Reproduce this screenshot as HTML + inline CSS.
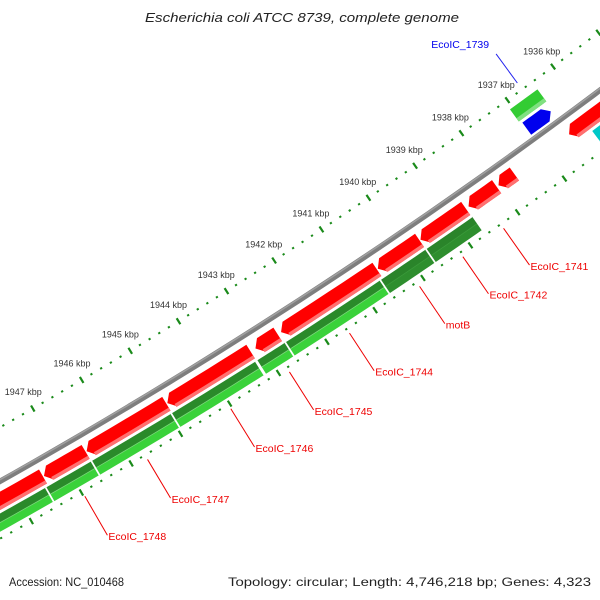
<!DOCTYPE html>
<html><head><meta charset="utf-8"><style>
html,body{margin:0;padding:0;background:#fff;}
svg{display:block;font-family:"Liberation Sans",sans-serif;}
</style></head><body>
<svg id="map" width="600" height="600" viewBox="0 0 600 600">
<text x="145" y="22" textLength="314" lengthAdjust="spacingAndGlyphs" font-size="13" font-style="italic" fill="#222">Escherichia coli ATCC 8739, complete genome</text>
<text x="9" y="586" textLength="115" lengthAdjust="spacingAndGlyphs" font-size="12" fill="#222">Accession: NC_010468</text>
<text x="228" y="586" textLength="363" lengthAdjust="spacingAndGlyphs" font-size="12" fill="#222">Topology: circular; Length: 4,746,218 bp; Genes: 4,323</text>
<g id="layer"></g>
</svg>
<script>
// data (kbp)
const majorTicks = [1936,1937,1938,1939,1940,1941,1942,1943,1944,1945,1946,1947,1948,1949];
const tickLabels = ["1936 kbp","1937 kbp","1938 kbp","1939 kbp","1940 kbp","1941 kbp","1942 kbp","1943 kbp","1944 kbp","1945 kbp","1946 kbp","1947 kbp","1948 kbp","1949 kbp"];
const redStart = [1947.44,1946.58,1944.94,1943.21,1942.65,1940.58,1939.68,1938.70,1938.04,1937.66,1935.2];
const redEnd   = [1948.9,1947.42,1946.56,1944.92,1943.11,1942.58,1940.56,1939.66,1938.64,1938.00,1936.48];
const greenStart = [1947.50,1946.58,1944.96,1943.23,1942.62,1940.64,1939.68,1938.68];
const greenEnd   = [1948.9,1947.48,1946.56,1944.94,1943.19,1942.60,1940.62,1939.66];
const greenType  = ["light","light","light","light","light","light","dark","dark"];
const cyanStart = [1935.0];
const cyanEnd = [1936.12];
const blueStart = [1936.50];
const blueEnd = [1937.02];
const innerGreenStart = [1936.46];
const innerGreenEnd = [1937.06];
const labelNames = ["EcoIC_1748","EcoIC_1747","EcoIC_1746","EcoIC_1745","EcoIC_1744","motB","EcoIC_1742","EcoIC_1741"];
const labelPos = [1946.98,1945.72,1944.03,1942.83,1941.59,1940.13,1939.22,1938.36];
const blueLabelName = "EcoIC_1739";
const blueLabelPos = 1936.68;

const NS="http://www.w3.org/2000/svg";
const layer=document.getElementById('layer');
const CX=-2697, CY=-4312, R=5500, A0=56.39, K=0.595;
function pt(pos,r){const a=(A0+(pos-1941)*K)*Math.PI/180;return [CX+(R+r)*Math.cos(a),CY+(R+r)*Math.sin(a)];}
function mk(tag,attrs){const e=document.createElementNS(NS,tag);for(const k in attrs)e.setAttribute(k,attrs[k]);layer.appendChild(e);return e;}
function arcPts(p1,p2,r,n){const a=[];for(let i=0;i<=n;i++){a.push(pt(p1+(p2-p1)*i/n,r));}return a;}
function ps(a){return a.map(p=>p[0].toFixed(2)+','+p[1].toFixed(2)).join(' ');}
function band(p1,p2,r0,r1){const n=8;return arcPts(p1,p2,r0,n).concat(arcPts(p1,p2,r1,n).reverse());}
function arrowHi(p1,p2,r0,r1){const h=0.12,m=(r0+r1)/2;const b=Math.max(p1,p2-h);return arcPts(p1,b,r0,6).concat([pt(p2,m)]).concat(arcPts(p1,b,r1,6).reverse());}
function arrowLo(p1,p2,r0,r1){const h=0.12,m=(r0+r1)/2;const b=Math.min(p2,p1+h);return [pt(p1,m)].concat(arcPts(b,p2,r0,6)).concat(arcPts(b,p2,r1,6).reverse());}

let bb=mk('polyline',{points:ps(arcPts(1933,1951,0,40)),fill:'none',stroke:'#7e7e7e','stroke-width':5.5});


let bb2=mk('polyline',{points:ps(arcPts(1933,1951,-1.5,40)),fill:'none',stroke:'#a0a0a0','stroke-width':1.5});



for(let i=0;i<=70;i++){
  const p=1935+i*0.2;
  const major=(i%5===0);
  const li=major?3.5:1;
  let t1=mk('line',{x1:pt(p,-47-li)[0],y1:pt(p,-47-li)[1],x2:pt(p,-47+li)[0],y2:pt(p,-47+li)[1],stroke:'#1a8a1a','stroke-width':2.2});
  
  
  let t2=mk('line',{x1:pt(p,50-li)[0],y1:pt(p,50-li)[1],x2:pt(p,50+li)[0],y2:pt(p,50+li)[1],stroke:'#1a8a1a','stroke-width':2.2});
  
  
}
majorTicks.forEach((k,i)=>{
  const q=pt(k,-66);
  let t=mk('text',{x:q[0].toFixed(1),y:(q[1]+3).toFixed(1),'text-anchor':'middle','font-size':'9',fill:'#333'});
  t.textContent=tickLabels[i];
  
  
});

redStart.forEach((s,i)=>{
  let e=mk('polygon',{points:ps(arrowHi(s,redEnd[i],9,25)),fill:'#ff0000'});
  
  
  let sh=mk('polygon',{points:ps(band(s,redEnd[i]-0.1,21.5,25)),fill:'#ff7070'});
  
  
});
greenStart.forEach((s,i)=>{
  const dark=greenType[i]==='dark';
  let e=mk('polygon',{points:ps(band(s,greenEnd[i],28,36)),fill:dark?'#2a842a':'#2a8a2a'});
  
  
  let f=mk('polygon',{points:ps(band(s,greenEnd[i],36,44)),fill:dark?'#2e8e2e':'#3ad23a'});
  
  
  let l=mk('polyline',{points:ps(arcPts(s,greenEnd[i],36,6)),fill:'none',stroke:dark?'#3a9a3a':'#7ad87a','stroke-width':0.8});
  
  
  let d=mk('line',{x1:pt(s,28)[0],y1:pt(s,28)[1],x2:pt(s,44)[0],y2:pt(s,44)[1],stroke:'#fff','stroke-width':1.2});
  
  
});
cyanStart.forEach((s,i)=>{
  let e=mk('polygon',{points:ps(band(s,cyanEnd[i],28,44)),fill:'#00c8c8'});
  
  
  let sh=mk('polygon',{points:ps(band(s,cyanEnd[i],40,44)),fill:'#60e0e0'});
  
  
});
innerGreenStart.forEach((s,i)=>{
  let e=mk('polygon',{points:ps(band(s,innerGreenEnd[i],-38,-23)),fill:'#33cc33'});
  
  
  let sh=mk('polygon',{points:ps(band(s,innerGreenEnd[i],-27,-23)),fill:'#80e080'});
  
  
});
blueStart.forEach((s,i)=>{
  let e=mk('polygon',{points:ps(arrowLo(s,blueEnd[i],-20,-5)),fill:'#0000ee'});
  
  
});

labelNames.forEach((n,i)=>{
  const a=pt(labelPos[i],55),b=pt(labelPos[i],100);
  let l=mk('line',{x1:a[0],y1:a[1],x2:b[0],y2:b[1],stroke:'#ee0000','stroke-width':1});
  
  
  let t=mk('text',{x:(b[0]+1).toFixed(1),y:(b[1]+5).toFixed(1),'font-size':'10.5',fill:'#ee0000'});
  t.textContent=n;
  
  
});
{
  const a=pt(blueLabelPos,-55),b=pt(blueLabelPos,-91);
  let l=mk('line',{x1:a[0],y1:a[1],x2:b[0],y2:b[1],stroke:'#2222ee','stroke-width':1});
  
  
  let t=mk('text',{x:(b[0]-7).toFixed(1),y:(b[1]-6).toFixed(1),'text-anchor':'end','font-size':'10.5',fill:'#0000ee'});
  t.textContent=blueLabelName;
  
  
}
</script>
</body></html>
